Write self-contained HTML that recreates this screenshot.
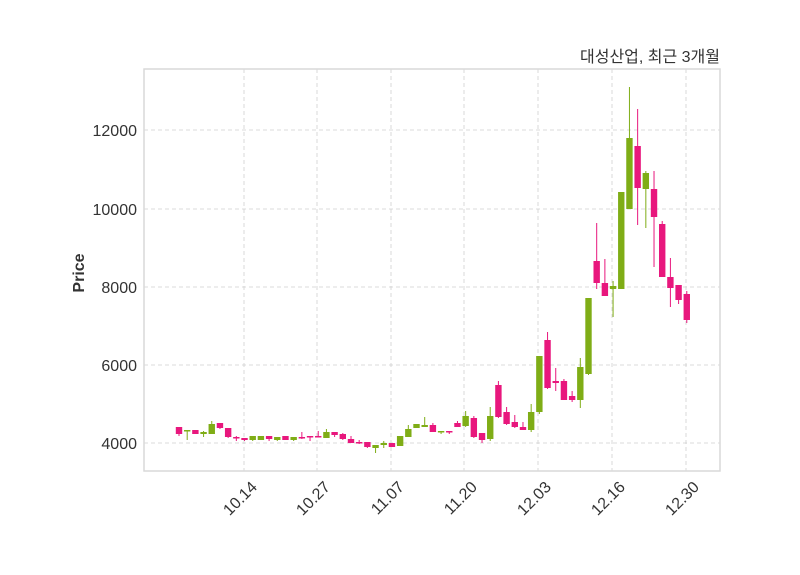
<!DOCTYPE html>
<html><head><meta charset="utf-8">
<style>
html,body{margin:0;padding:0;background:#fff;}
svg{display:block;font-family:"Liberation Sans","Noto Sans CJK KR",sans-serif;}
</style></head>
<body>
<svg id="s" width="800" height="575" viewBox="0 0 800 575" xmlns="http://www.w3.org/2000/svg">
<rect x="0" y="0" width="800" height="575" fill="#fff"/>
<g stroke="#d0d0d0" stroke-width="0.8" stroke-dasharray="4,3">
<line x1="244" y1="69" x2="244" y2="471"/>
<line x1="317" y1="69" x2="317" y2="471"/>
<line x1="391" y1="69" x2="391" y2="471"/>
<line x1="464" y1="69" x2="464" y2="471"/>
<line x1="538" y1="69" x2="538" y2="471"/>
<line x1="612" y1="69" x2="612" y2="471"/>
<line x1="686" y1="69" x2="686" y2="471"/>
<line x1="144" y1="130" x2="720" y2="130"/>
<line x1="144" y1="209" x2="720" y2="209"/>
<line x1="144" y1="287" x2="720" y2="287"/>
<line x1="144" y1="365" x2="720" y2="365"/>
<line x1="144" y1="443" x2="720" y2="443"/>
</g>
<g id="c"></g>
<rect x="144" y="69" width="576" height="402" fill="none" stroke="#d9d9d9" stroke-width="1.5"/>
<g font-size="16" fill="#333" text-anchor="end">
<text x="137" y="136">12000</text>
<text x="137" y="215">10000</text>
<text x="137" y="293">8000</text>
<text x="137" y="371">6000</text>
<text x="137" y="449">4000</text>
</g>
<g font-size="16" fill="#333" text-anchor="end">
<text transform="translate(258,488) rotate(-45)">10.14</text>
<text transform="translate(331,488) rotate(-45)">10.27</text>
<text transform="translate(405,488) rotate(-45)">11.07</text>
<text transform="translate(478,488) rotate(-45)">11.20</text>
<text transform="translate(552,488) rotate(-45)">12.03</text>
<text transform="translate(626,488) rotate(-45)">12.16</text>
<text transform="translate(700,488) rotate(-45)">12.30</text>
</g>
<text transform="translate(84,273) rotate(-90)" font-size="16" font-weight="bold" fill="#333" text-anchor="middle">Price</text>
<text x="720" y="62" font-size="16" fill="#333" text-anchor="end">대성산업, 최근 3개월</text>
</svg>
<script>
var d=[
[427,434,427,436,0],[430,431,430,440,1],[430,434,430,434,0],[432,434,431,437,1],[424,434,421,434,1],
[423,428,423,429,0],[428,437,428,438,0],[437,438,436,441,0],[438,440,438,441,0],[436,440,436,441,1],
[436,440,436,440,1],[436,439,436,441,0],[437,440,437,441,1],[436,440,436,440,0],[437,440,437,441,1],
[437,438,432,439,0],[436,437,436,441,0],[436,437,431,437,0],[432,438,429,438,1],[432,435,432,437,0],
[434,439,433,440,0],[439,443,436,443,0],[442,443,440,444,0],[442,447,442,448,0],[445,448,445,453,1],
[443,445,441,448,1],[443,447,443,447,0],[436,446,436,446,1],[429,437,425,437,1],[424,428,424,428,1],
[425,427,417,427,1],[425,432,423,432,0],[431,432,431,434,1],[431,432,431,434,0],[423,427,421,427,0],
[416,426,411,427,1],[418,437,416,438,0],[433,440,433,443,0],[416,439,407,441,1],[385,417,381,418,0],
[412,424,407,425,0],[422,427,415,428,0],[427,430,422,430,0],[412,430,404,432,1],[356,412,356,414,1],
[340,388,332,389,0],[381,383,368,391,0],[381,400,379,400,0],[396,400,391,402,0],[367,400,358,408,1],
[298,374,298,375,1],[261,283,223,289,0],[283,296,259,296,0],[286,289,281,317,1],[192,289,192,289,1],
[138,209,87,209,1],[146,188,109,225,0],[173,189,171,228,1],[189,217,171,267,0],[224,277,221,277,0],
[277,288,258,307,0],[285,300,285,304,0],[294,320,291,323,0]];
var g=document.getElementById('c'),h='';
for(var i=0;i<d.length;i++){var x=179+8.19*i,c=d[i][4]?'#7fad16':'#e8177d',t=d[i][0],b=d[i][1];if(b-t<1.5){b=t+1.5;}
h+='<line x1="'+x+'" x2="'+x+'" y1="'+d[i][2]+'" y2="'+d[i][3]+'" stroke="'+c+'" stroke-width="1"/>';
h+='<rect x="'+(x-3.2)+'" y="'+t+'" width="6.4" height="'+(b-t)+'" fill="'+c+'"/>';}
g.innerHTML=h;
</script>
</body></html>
